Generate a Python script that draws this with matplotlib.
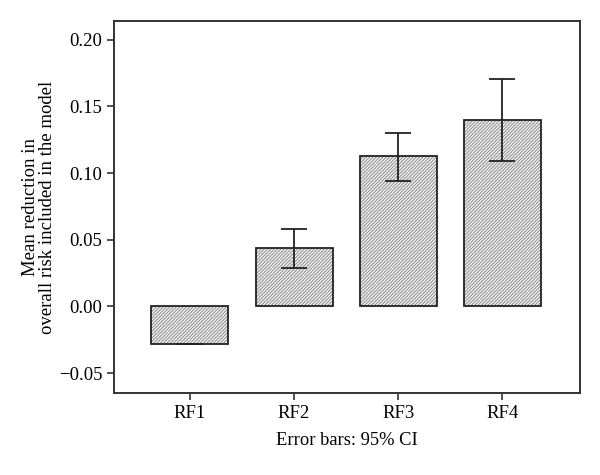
import matplotlib
matplotlib.use("Agg")
import matplotlib.pyplot as plt
import numpy as np

categories = ["RF1", "RF2", "RF3", "RF4"]
means = [-0.0285, 0.0437, 0.1128, 0.1398]
ci_low = [-0.0285, 0.0290, 0.0940, 0.1093]
ci_high = [-0.0285, 0.0580, 0.1302, 0.1707]
yticks = [-0.05, 0.00, 0.05, 0.10, 0.15, 0.20]

plt.rcParams['font.family'] = ['Liberation Serif', 'DejaVu Serif']
plt.rcParams['hatch.linewidth'] = 0.7

fig = plt.figure(figsize=(6, 4.75), dpi=100)
ax = fig.add_axes([0.19, 0.1726, 0.777, 0.783])

x = np.arange(1, len(categories) + 1)
m = np.array(means)
yerr = np.vstack([m - np.array(ci_low), np.array(ci_high) - m])
# hatched fill (gray lines)
ax.bar(x, m, width=0.74, facecolor='#f2f2f2', edgecolor='#8c8c8c',
       linewidth=0, hatch='/' * 10, zorder=2)
# outline
ax.bar(x, m, width=0.74, facecolor='none', edgecolor='#222222',
       linewidth=1.3, zorder=3)
ax.errorbar(x, m, yerr=yerr, fmt='none', ecolor='#222222', elinewidth=1.3,
            capsize=9.7, capthick=1.3, zorder=4)

ax.set_xlim(0.27, 4.75)
ax.set_ylim(-0.065, 0.214)
ax.set_xticks(x)
ax.set_xticklabels(categories)
ax.set_yticks(yticks)
ax.set_yticklabels([f"{v:.2f}".replace('-', '\u2212') for v in yticks])
ax.tick_params(direction='out', length=5, width=1.2, labelsize=13.5, color='#333333')
for s in ax.spines.values():
    s.set_linewidth(1.4)
    s.set_color('#333333')
ax.set_ylabel("Mean reduction in\noverall risk included in the model", fontsize=13.5,
              labelpad=2, linespacing=1.0)
ax.set_xlabel("Error bars: 95% CI", fontsize=13.3, labelpad=7)

fig.savefig("out.png", dpi=100)
